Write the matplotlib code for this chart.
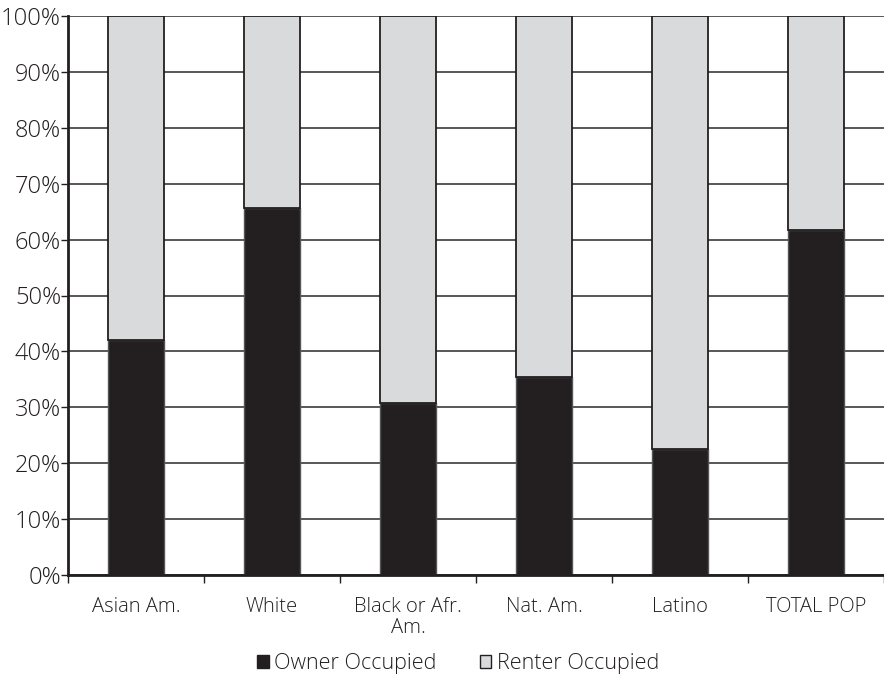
import numpy as np
import matplotlib.pyplot as plt
from matplotlib.patches import Patch
from matplotlib.ticker import FixedLocator, NullFormatter

plt.rcParams['font.family'] = ['Open Sans', 'DejaVu Sans']
plt.rcParams['font.weight'] = 'light'

# data (percent of households)
groups = ["Asian Am.", "White", "Black or Afr.\nAm.", "Nat. Am.", "Latino", "TOTAL POP"]
owner = [42.0, 65.7, 30.8, 35.4, 22.5, 61.7]
renter = [100 - v for v in owner]

owner_color = "#231f20"
renter_color = "#d9dadc"
text_color = "#231f20"

fig = plt.figure(figsize=(8.84, 6.79), dpi=100)
ax = fig.add_axes([68 / 884, 1 - 575 / 679, 1 - 68 / 884, 559 / 679])

x = np.arange(len(groups))
ax.bar(x, owner, width=0.41, color=owner_color, edgecolor="#555555",
       linewidth=1, zorder=3, label="Owner Occupied")
ax.bar(x, renter, width=0.41, bottom=owner, color=renter_color,
       edgecolor="#231f20", linewidth=1.3, zorder=3, label="Renter Occupied")

ax.set_xlim(-0.5, len(groups) - 0.5)
ax.set_ylim(0, 100)
ax.set_yticks(np.arange(0, 101, 10))
ax.set_yticklabels([f"{v}%" for v in range(0, 101, 10)])
ax.yaxis.grid(True, color="#2a2a2a", linewidth=1.1, zorder=0)

# category labels centred, tick marks on the boundaries
ax.set_xticks(x)
ax.set_xticklabels(groups)
ax.tick_params(axis="x", length=0, pad=16, labelsize=14.5, labelcolor=text_color)
ax.xaxis.set_minor_locator(FixedLocator(np.arange(-0.5, len(groups), 1)))
ax.xaxis.set_minor_formatter(NullFormatter())
ax.tick_params(axis="x", which="minor", length=6, width=1, color="#231f20")
ax.tick_params(axis="y", length=5, width=1, color="#231f20",
               labelsize=17, labelcolor=text_color, pad=0)
for lbl in ax.get_xticklabels():
    lbl.set_linespacing(1.05)

for side in ["top", "right"]:
    ax.spines[side].set_visible(False)
for side in ["left", "bottom"]:
    ax.spines[side].set_linewidth(2)
    ax.spines[side].set_color("#231f20")
    ax.spines[side].set_zorder(4)

handles = [Patch(facecolor=owner_color, edgecolor=owner_color, label="Owner Occupied"),
           Patch(facecolor=renter_color, edgecolor="#231f20", label="Renter Occupied")]
fig.legend(handles=handles, loc="center", bbox_to_anchor=(458 / 884, 1 - 664 / 679),
           ncol=2, frameon=False, fontsize=15.5, handlelength=0.55, handleheight=0.55,
           handletextpad=0.25, columnspacing=2.0, labelcolor=text_color)

fig.savefig("out.png", dpi=100)
